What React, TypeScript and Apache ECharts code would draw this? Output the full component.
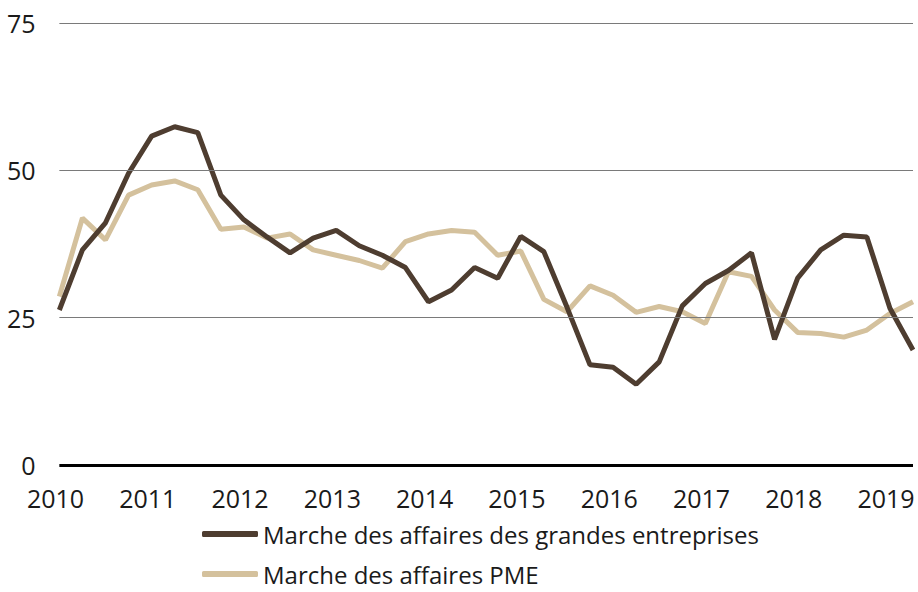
import React, { useEffect, useRef } from "react";
import * as echarts from "echarts";

// Quarterly observations, 2010 Q1 – 2019 Q2
const years = [
  2010, 2010, 2010, 2010, 2011, 2011, 2011, 2011, 2012, 2012, 2012, 2012,
  2013, 2013, 2013, 2013, 2014, 2014, 2014, 2014, 2015, 2015, 2015, 2015,
  2016, 2016, 2016, 2016, 2017, 2017, 2017, 2017, 2018, 2018, 2018, 2018,
  2019, 2019,
];
const quarters = [
  1, 2, 3, 4, 1, 2, 3, 4, 1, 2, 3, 4, 1, 2, 3, 4, 1, 2, 3, 4, 1, 2, 3, 4,
  1, 2, 3, 4, 1, 2, 3, 4, 1, 2, 3, 4, 1, 2,
];

const grandesEntreprises = [
  26.3, 36.5, 41.1, 49.5, 55.8, 57.4, 56.4, 45.8, 41.6, 38.7, 36.0, 38.5,
  39.8, 37.2, 35.6, 33.5, 27.7, 29.7, 33.5, 31.7, 38.8, 36.2, 26.8, 17.0,
  16.6, 13.7, 17.5, 27.0, 30.8, 33.0, 36.0, 21.3, 31.7, 36.5, 39.0, 38.7,
  26.6, 19.5,
];
const pme = [
  28.6, 41.9, 38.2, 45.8, 47.5, 48.2, 46.7, 40.0, 40.4, 38.5, 39.2, 36.5,
  35.6, 34.7, 33.4, 37.9, 39.2, 39.8, 39.5, 35.6, 36.3, 28.1, 26.0, 30.4,
  28.8, 25.9, 26.9, 26.0, 24.0, 32.8, 32.0, 26.3, 22.5, 22.3, 21.7, 22.9,
  25.7, 27.7,
];

const yTicks = [0, 25, 50, 75];
const xYearMin = 2010;

const seriesNames = [
  "Marche des affaires des grandes entreprises",
  "Marche des affaires PME",
];

const DARK = "#4e3d30";
const LIGHT = "#d4c19d";
const FONT = "'Open Sans', sans-serif";

export default function App() {
  const ref = useRef<HTMLDivElement>(null);

  useEffect(() => {
    if (!ref.current) return;
    const chart = echarts.init(ref.current, null, { renderer: "svg" });

    // position of each quarterly observation (first month of quarter, mid-month)
    const xs = years.map((y, i) => y + (quarters[i] - 1) / 4 + 1 / 24);
    const x0 = xs[0];
    const x1 = xs[xs.length - 1];

    const gridLines = yTicks
      .filter((v) => v > 0)
      .map((v) => [{ coord: [x0, v] }, { coord: [x1, v] }]);

    const legendBase = {
      orient: "horizontal",
      left: 202,
      padding: 0,
      icon: "roundRect",
      itemWidth: 56,
      itemHeight: 6,
      textStyle: {
        fontFamily: FONT,
        fontSize: 24,
        color: "#1a1a1a",
        lineHeight: 26,
      },
    };

    chart.setOption({
      animation: false,
      grid: { left: 55.5, right: 5, top: 23, bottom: 127 },
      xAxis: {
        type: "value",
        min: xYearMin,
        max: x1,
        interval: 1,
        axisLine: { show: false },
        axisTick: { show: false },
        splitLine: { show: false },
        axisLabel: {
          fontFamily: FONT,
          fontSize: 25,
          color: "#1a1a1a",
          verticalAlign: "middle",
          margin: 33,
          showMaxLabel: false,
          formatter: (v: number) =>
            Math.abs(v - Math.round(v)) < 1e-6 ? String(Math.round(v)) : "",
        },
      },
      yAxis: {
        type: "value",
        min: 0,
        max: 75,
        interval: 25,
        axisLine: { show: false },
        axisTick: { show: false },
        splitLine: { show: false },
        axisLabel: {
          fontFamily: FONT,
          fontSize: 25,
          color: "#1a1a1a",
          margin: 20,
        },
      },
      legend: [
        { ...legendBase, data: [seriesNames[0]], top: 521 },
        { ...legendBase, data: [seriesNames[1]], top: 561 },
      ],
      series: [
        {
          name: "grid",
          type: "line",
          data: xs.map((x, i) => [x, pme[i]]),
          showSymbol: false,
          lineStyle: { opacity: 0, width: 0 },
          silent: true,
          z: 1,
          markLine: {
            silent: true,
            symbol: "none",
            label: { show: false },
            lineStyle: { color: "#7a7a7a", width: 1, type: "solid" },
            data: [
              ...gridLines,
              [
                {
                  coord: [x0, yTicks[0]],
                  lineStyle: { color: "#000000", width: 3, type: "solid" },
                },
                { coord: [x1, yTicks[0]] },
              ],
            ],
          },
        },
        {
          name: seriesNames[0],
          type: "line",
          data: xs.map((x, i) => [x, grandesEntreprises[i]]),
          showSymbol: false,
          color: DARK,
          lineStyle: { color: DARK, width: 5 },
          z: 3,
        },
        {
          name: seriesNames[1],
          type: "line",
          data: xs.map((x, i) => [x, pme[i]]),
          showSymbol: false,
          color: LIGHT,
          lineStyle: { color: LIGHT, width: 5 },
          z: 2,
        },
      ],
    });

    return () => chart.dispose();
  }, []);

  return (
    <div
      ref={ref}
      style={{ width: 918, height: 592, position: "absolute", left: 0, top: 0 }}
    />
  );
}
